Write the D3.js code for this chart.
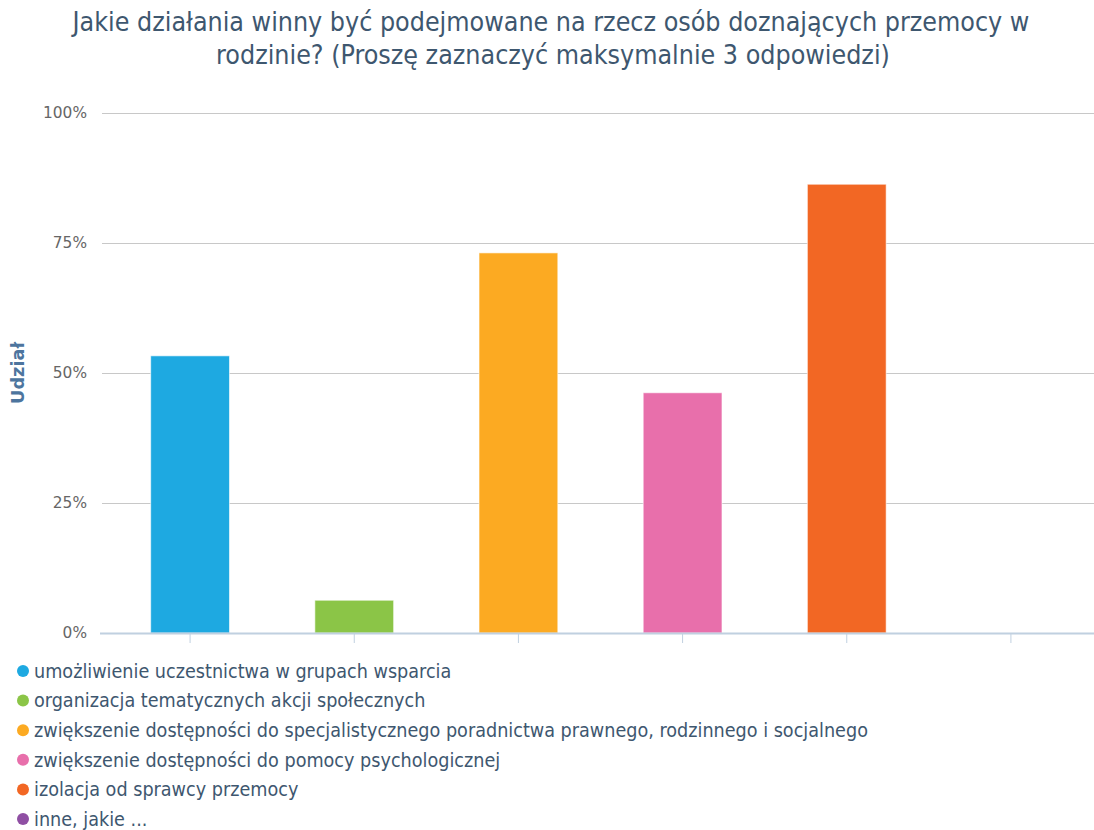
<!DOCTYPE html>
<html>
<head>
<meta charset="utf-8">
<script src="https://cdn.jsdelivr.net/npm/d3@7/dist/d3.min.js"></script>
<style>
  html, body { margin: 0; padding: 0; background: #fff; }
  svg { display: block; }
  .cond { font-family: 'DejaVu Sans Condensed', 'DejaVu Sans', sans-serif; font-stretch: condensed; }
</style>
</head>
<body>
<svg id="chart" width="1094" height="830"></svg>
<script>
const titleLines = [
  "Jakie działania winny być podejmowane na rzecz osób doznających przemocy w",
  "rodzinie? (Proszę zaznaczyć maksymalnie 3 odpowiedzi)"
];
const categories = [
  "umożliwienie uczestnictwa w grupach wsparcia",
  "organizacja tematycznych akcji społecznych",
  "zwiększenie dostępności do specjalistycznego poradnictwa prawnego, rodzinnego i socjalnego",
  "zwiększenie dostępności do pomocy psychologicznej",
  "izolacja od sprawcy przemocy",
  "inne, jakie ..."
];
const values = [53.3, 6.3, 73.1, 46.2, 86.3, 0];
const colors = ["#1ea9e1", "#8bc547", "#fcaa22", "#e86fab", "#f26724", "#8f4fa3"];
const yTicks = [0, 25, 50, 75, 100];
const yAxisTitle = "Udział";

const svg = d3.select("#chart");

function fitText(sel, target) {
  const w = sel.node().getComputedTextLength();
  const fs = parseFloat(sel.attr("font-size"));
  sel.attr("font-size", (fs * target / w).toFixed(2));
}

// Title
const t1 = svg.append("text").attr("class", "cond").attr("x", 551).attr("y", 31)
  .attr("text-anchor", "middle")
  .attr("font-size", 22).attr("fill", "#3e576f").text(titleLines[0]);
fitText(t1, 957);
svg.append("text").attr("class", "cond").attr("x", 553).attr("y", 64)
  .attr("text-anchor", "middle")
  .attr("font-size", t1.attr("font-size")).attr("fill", "#3e576f").text(titleLines[1]);

// Scales
const y = d3.scaleLinear().domain([0, 100]).range([633, 113]);
const x = d3.scaleBand().domain(categories).range([108, 1093]).paddingInner(0.52).paddingOuter(0.26);

// Grid
svg.append("g").selectAll("line").data(yTicks.filter(d => d > 0)).join("line")
  .attr("x1", 102).attr("x2", 1094)
  .attr("y1", d => y(d) + 0.5).attr("y2", d => y(d) + 0.5)
  .attr("stroke", "#c8c8c8").attr("stroke-width", 1);

// Y axis labels
const yAxis = d3.axisLeft(y).tickValues(yTicks).tickFormat(d => d + "%").tickSize(0).tickPadding(0);
const yg = svg.append("g").attr("transform", "translate(87,0)").call(yAxis);
yg.select(".domain").remove();
const ytexts = yg.selectAll("text").attr("font-family", "'DejaVu Sans', sans-serif")
  .attr("font-size", 13).attr("fill", "#666").attr("dy", "0.32em");
const w100 = ytexts.nodes()[4].getComputedTextLength();
ytexts.attr("font-size", (13 * 44 / w100).toFixed(2));

// Y axis title
const yt = svg.append("text").attr("transform", "translate(24,373) rotate(-90)")
  .attr("text-anchor", "middle").attr("font-family", "'DejaVu Sans', sans-serif")
  .attr("font-weight", "bold").attr("font-size", 14).attr("fill", "#4d759e").text(yAxisTitle);
fitText(yt, 62);

// Bars
svg.append("g").selectAll("rect").data(categories).join("rect")
  .attr("x", d => x(d))
  .attr("width", x.bandwidth())
  .attr("y", (d, i) => y(values[i]))
  .attr("height", (d, i) => y(0) - y(values[i]))
  .attr("fill", (d, i) => colors[i])
  .attr("stroke", "#ffffff").attr("stroke-width", 1).attr("stroke-opacity", 0.6);

// X axis
const xAxis = d3.axisBottom(x).tickSize(10).tickFormat("");
const xg = svg.append("g").attr("transform", "translate(0,633)").call(xAxis);
xg.select(".domain").remove();
xg.selectAll(".tick line").attr("stroke", "#c0d0e0");
svg.append("line").attr("x1", 100).attr("x2", 1094).attr("y1", 633.5).attr("y2", 633.5)
  .attr("stroke", "#c0d0e0").attr("stroke-width", 2);

// Legend
const lg = svg.append("g");
const items = lg.selectAll("g").data(categories).join("g")
  .attr("transform", (d, i) => `translate(0,${671 + i * 29.6})`);
items.append("circle").attr("cx", 23).attr("cy", 0).attr("r", 6)
  .attr("fill", (d, i) => colors[i]);
const texts = items.append("text").attr("class", "cond").attr("x", 34).attr("y", 0).attr("dy", "0.35em")
  .attr("font-size", 16).attr("fill", "#3e576f")
  .text(d => d);
const longW = texts.nodes()[2].getComputedTextLength();
texts.attr("font-size", (16 * 834 / longW).toFixed(2));
</script>
</body>
</html>
